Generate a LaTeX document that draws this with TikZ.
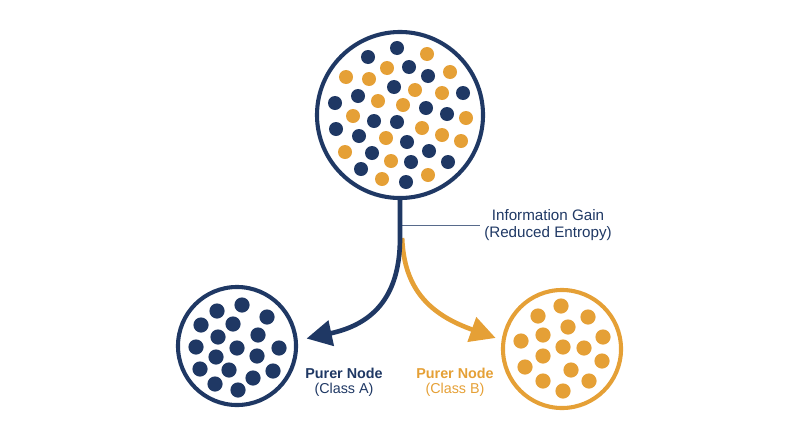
\documentclass[tikz,border=0pt]{standalone}
\usepackage{fontspec}
\setmainfont{Liberation Sans}
\usetikzlibrary{arrows.meta}
\definecolor{navy}{RGB}{31,56,100}
\definecolor{amber}{RGB}{229,160,54}
\newcommand{\scatterdots}[3]{%
  \foreach \px/\py in {#3}
    \fill[#1] (\px,\py) circle (#2);
}

\begin{document}
\begin{tikzpicture}[x=0.025cm, y=-0.025cm, >={Triangle[length=18pt,width=18pt]},
  every node/.style={inner sep=3pt, align=center},
  pool/.style={circle, draw, line width=2.9pt, inner sep=0pt, outer sep=0pt},
  branch/.style={line width=3.3pt, ->}]

  \useasboundingbox (0,0) rectangle (800,447);

  % Mixed parent pool
  \node[pool, navy, minimum size=4.15cm] (root) at (400,115) {};
  \scatterdots{navy}{0.175cm}{397/48,368/57,409/67,428/76,394/87,463/93,358/96,335/103,
    426/108,447/114,374/121,397/122,336/129,359/136,407/142,372/153,429/151,
    411/162,448/162,361/169,406/182}
  \scatterdots{amber}{0.175cm}{427/54,387/68,346/77,369/79,450/72,415/90,442/93,378/101,
    403/105,353/116,466/118,422/128,386/138,442/135,461/141,345/152,391/161,
    382/179,428/175}

  % Purer children
  \node[pool, navy, minimum size=2.95cm] (left) at (237,346) {};
  \scatterdots{navy}{0.19cm}{217/311,242/305,267/317,201/325,233/324,218/337,258/335,
    196/347,237/348,279/348,216/357,257/356,200/369,229/370,273/371,215/384,
    253/378,238/390}
  \node[pool, amber, minimum size=2.95cm] (right) at (562,349) {};
  \scatterdots{amber}{0.19cm}{561/306,538/316,588/317,568/327,543/335,521/341,603/337,
    563/347,584/348,543/356,602/361,525/367,571/370,543/381,589/381,563/391}

  % Labels
  \node[navy, font=\fontsize{10.8}{12.1}\selectfont] (info) at (548,225)
    {Information Gain\\(Reduced Entropy)};
  \node[navy, font=\fontsize{10.2}{10.7}\selectfont] (labA) at (344,382)
    {\textbf{Purer Node}\\(Class A)};
  \node[amber, font=\fontsize{10.2}{10.7}\selectfont] (labB) at (455,382)
    {\textbf{Purer Node}\\(Class B)};

  % Split
  \coordinate (tap) at (400,225);
  \coordinate (split) at (400,238);
  \draw[navy!75, line width=0.7pt] (tap) -- (info.west);
  \draw[branch, amber, shorten >=0.21cm] ([xshift=1.5pt]split)
    .. controls +(2,52) and +(-73,-26) .. (right.172);
  \draw[branch, navy, shorten >=0.275cm] (root.south) -- (split)
    .. controls +(0,62) and +(74,-16) .. (left.5);

\end{tikzpicture}
\end{document}
